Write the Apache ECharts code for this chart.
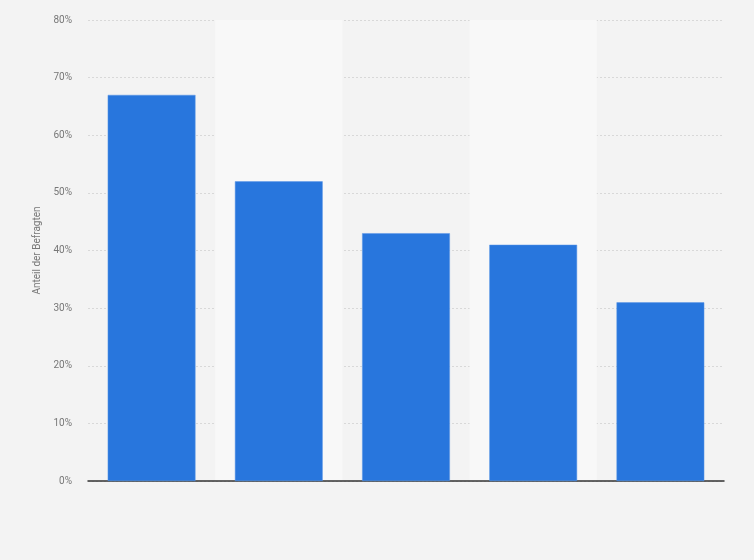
<!DOCTYPE html>
<html>
<head>
<meta charset="utf-8">
<script src="https://cdn.jsdelivr.net/npm/echarts@6/dist/echarts.min.js"></script>
<style>
  html, body { margin: 0; padding: 0; background: #f3f3f3; }
  #chart { width: 754px; height: 560px; }
</style>
</head>
<body>
<div id="chart"></div>
<script>
  // categories are not labelled in the source picture
  const categories = ['A', 'B', 'C', 'D', 'E'];
  const shares = [67, 52, 43, 41, 31];
  const yTicks = [0, 10, 20, 30, 40, 50, 60, 70, 80];

  const chart = echarts.init(document.getElementById('chart'));
  chart.setOption({
    backgroundColor: '#f3f3f3',
    animation: false,
    grid: { left: 88, right: 30, top: 20, bottom: 79 },
    xAxis: {
      type: 'category',
      data: categories,
      axisLine: { lineStyle: { color: '#333', width: 1.5 } },
      axisTick: { show: false },
      axisLabel: { show: false },
      splitArea: { show: true, areaStyle: { color: ['rgba(0,0,0,0)', '#f8f8f8'] } }
    },
    yAxis: {
      type: 'value',
      min: yTicks[0],
      max: yTicks[yTicks.length - 1],
      interval: 10,
      name: 'Anteil der Befragten',
      nameLocation: 'middle',
      nameGap: 42,
      nameTextStyle: { color: '#777', fontSize: 10, fontFamily: 'Roboto' },
      axisLabel: { formatter: '{value}%', color: '#777', fontSize: 10, fontFamily: 'Roboto', margin: 16 },
      axisLine: { show: false },
      axisTick: { show: false },
      splitLine: { lineStyle: { color: '#d8d8d8', type: [2, 2] } }
    },
    series: [{
      type: 'bar',
      data: shares,
      barWidth: '69%',
      itemStyle: { color: '#2876dd', borderColor: '#5b97e6', borderWidth: 0.5 }
    }]
  });
</script>
</body>
</html>
